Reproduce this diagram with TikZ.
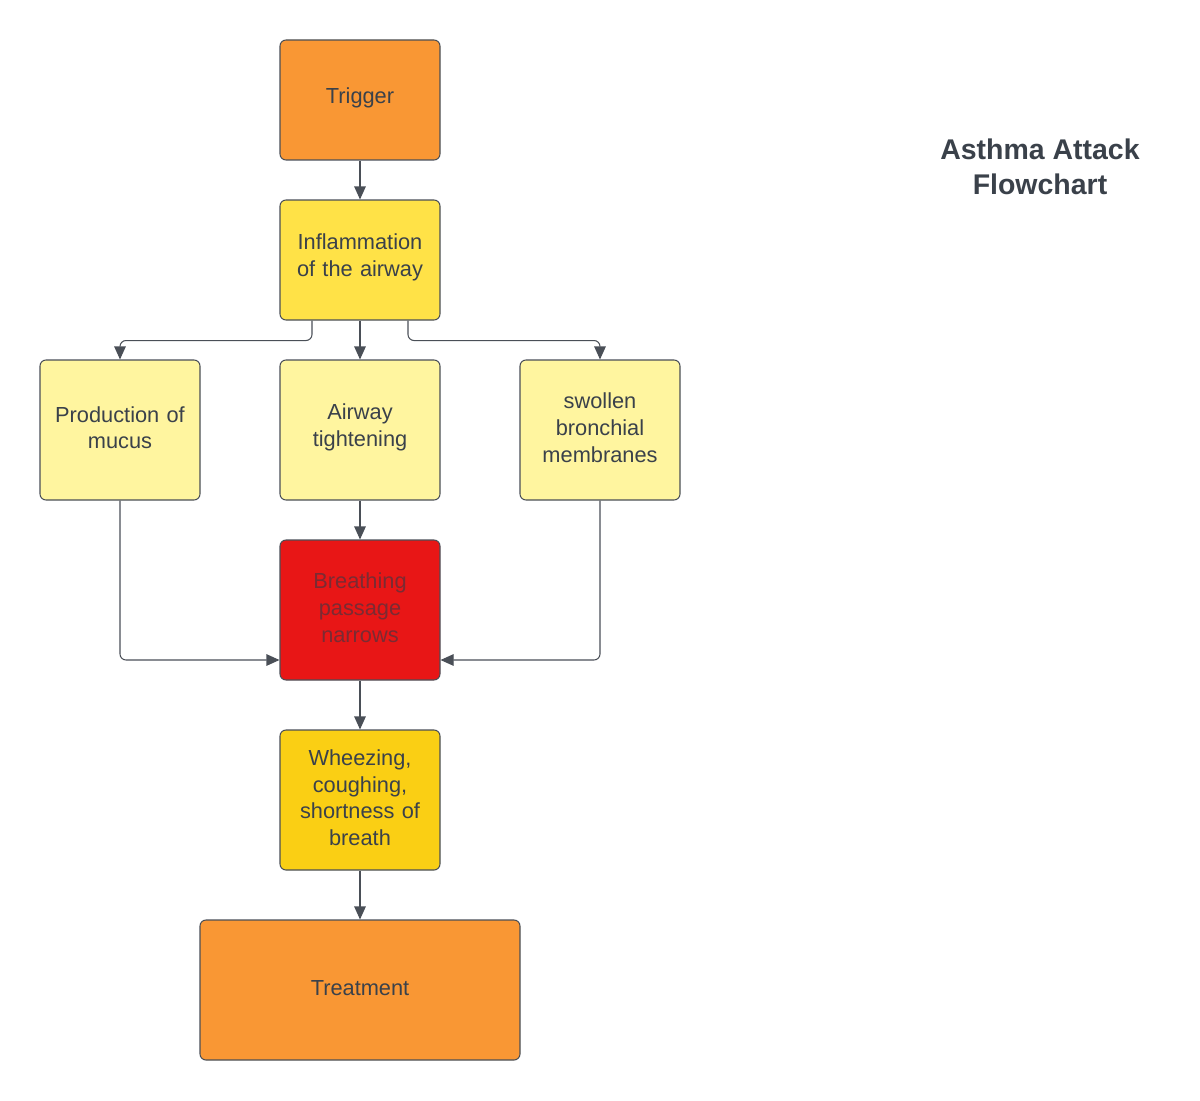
\documentclass[tikz,border=0pt]{standalone}
\usepackage{fontspec}
\setmainfont{Liberation Sans}
\usetikzlibrary{positioning}
\usetikzlibrary{arrows.meta}

\definecolor{textgray}{HTML}{3A414A}
\definecolor{linegray}{HTML}{4A4F57}
\definecolor{boxorange}{HTML}{F99734}
\definecolor{boxyellow}{HTML}{FFE247}
\definecolor{boxpale}{HTML}{FFF59F}
\definecolor{boxred}{HTML}{E81616}
\definecolor{boxgold}{HTML}{FACF14}
\definecolor{redtext}{HTML}{7A2B33}

\tikzset{
  stepbox/.style={draw=linegray, line width=0.6pt, rounded corners=0.12cm,
    minimum width=3.2cm, minimum height=2.8cm, align=center, text width=2.9cm,
    text=textgray, font=\fontsize{12.4}{15.3}\selectfont, inner sep=0pt,
    execute at end node={\vspace{0.09cm}}},
  flow/.style={draw=linegray, line width=0.6pt, rounded corners=0.12cm,
    -{Triangle[length=0.26cm,width=0.23cm]}}
}

\begin{document}
\begin{tikzpicture}
\useasboundingbox (0,0) rectangle (24,-22);
%top
\node[stepbox, fill=boxorange, minimum height=2.4cm] (trigger) at (7.2,-2.0) {Trigger};
\node[stepbox, fill=boxyellow, minimum height=2.4cm] (inflam) at (7.2,-5.2) {Inflammation\\of the airway};
%middle row
\node[stepbox, fill=boxpale] (mucus) at (2.4,-8.6) {Production of\\mucus};
\node[stepbox, fill=boxpale] (tight) at (7.2,-8.6) {Airway\\tightening};
\node[stepbox, fill=boxpale] (swollen) at (12.0,-8.6) {swollen\\bronchial\\membranes};
%bottom
\node[stepbox, fill=boxred, text=redtext] (narrow) at (7.2,-12.2) {Breathing\\passage\\narrows};
\node[stepbox, fill=boxgold] (wheeze) at (7.2,-16.0) {Wheezing,\\coughing,\\shortness of\\breath};
\node[stepbox, fill=boxorange, minimum width=6.4cm] (treat) at (7.2,-19.8) {Treatment};
%title
\node[text=textgray, font=\bfseries\fontsize{16.2}{19.8}\selectfont, align=center] (title) at (20.8,-3.34) {Asthma Attack\\Flowchart};

%connectors
\draw[flow] (trigger) -- (inflam);
\draw[flow] ([xshift=-0.96cm]inflam.south) -- ++(0,-0.4) -| (mucus.north);
\draw[flow] (inflam) -- (tight);
\draw[flow] ([xshift=0.96cm]inflam.south) -- ++(0,-0.4) -| (swollen.north);
\draw[flow] (tight) -- (narrow);
\draw[flow] (mucus.south) |- ([yshift=-1cm]narrow.west);
\draw[flow] (swollen.south) |- ([yshift=-1cm]narrow.east);
\draw[flow] (narrow) -- (wheeze);
\draw[flow] (wheeze) -- (treat);

\end{tikzpicture}
\end{document}
